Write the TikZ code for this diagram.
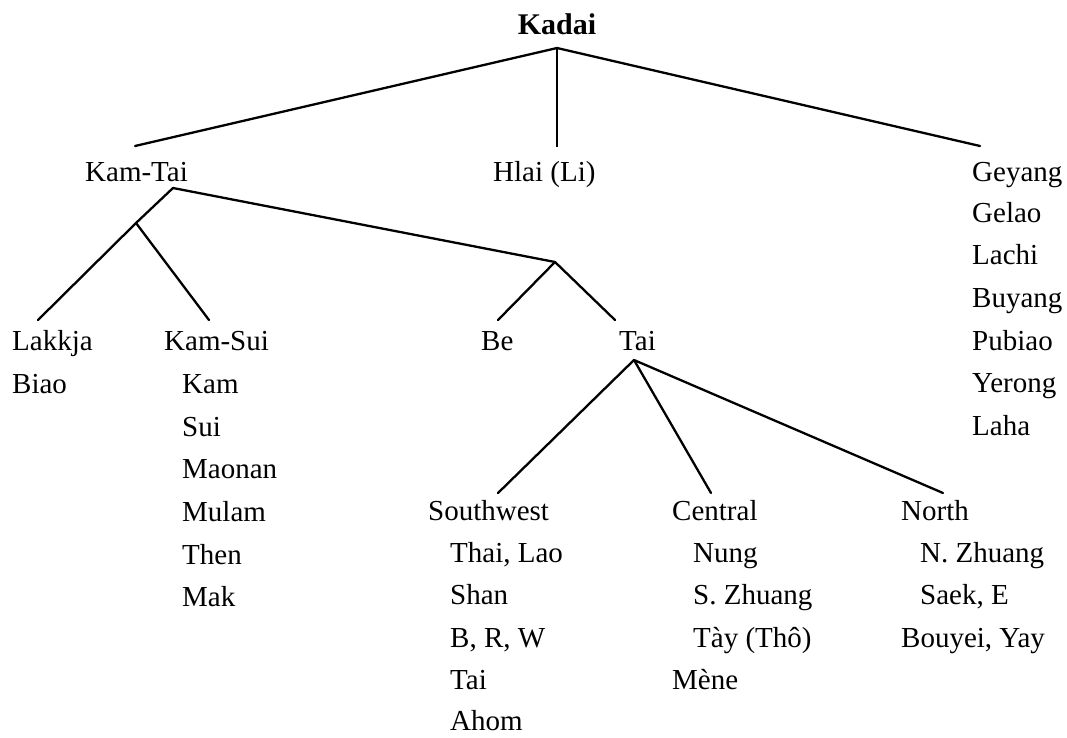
\documentclass[tikz,border=0pt]{standalone}
\usepackage{fontspec}
\setmainfont{Liberation Serif}
\begin{document}
\begin{tikzpicture}[x=1pt,y=-1pt,
  lbl/.style={anchor=base west, inner sep=0pt, font=\fontsize{29}{31}\selectfont},
  branch/.style={line width=2.3pt, line cap=round},
  thinbranch/.style={line width=1.2pt}]
\useasboundingbox[fill=white] (0,0) rectangle (1067,737);

% root
\node[anchor=base, inner sep=0pt, font=\fontsize{30}{32}\selectfont\bfseries] (kadai) at (557,34) {Kadai};

% first level
\node[lbl] (kamtai) at (85,181) {Kam-Tai};
\node[lbl] (hlai) at (493,181) {Hlai (Li)};
\node[lbl] (geyang) at (972,181) {Geyang};
\node[lbl] (gelao) at (972,222) {Gelao};
\node[lbl] (lachi) at (972,264) {Lachi};
\node[lbl] (buyang) at (972,307) {Buyang};
\node[lbl] (pubiao) at (972,350) {Pubiao};
\node[lbl] (yerong) at (972,392) {Yerong};
\node[lbl] (laha) at (972,435) {Laha};

% Kam-Tai children
\node[lbl] (lakkja) at (12,350) {Lakkja};
\node[lbl] (biao) at (12,393) {Biao};
\node[lbl] (kamsui) at (164,350) {Kam-Sui};
\node[lbl] (kam) at (182,393) {Kam};
\node[lbl] (sui) at (182,436) {Sui};
\node[lbl] (maonan) at (182,478) {Maonan};
\node[lbl] (mulam) at (182,521) {Mulam};
\node[lbl] (then) at (182,564) {Then};
\node[lbl] (mak) at (182,606) {Mak};

\node[lbl] (be) at (481,350) {Be};
\node[lbl] (tai) at (619,350) {Tai};

% Tai children
\node[lbl] (sw) at (428,520) {Southwest};
\node[lbl] (thailao) at (450,562) {Thai, Lao};
\node[lbl] (shan) at (450,604) {Shan};
\node[lbl] (brw) at (450,647) {B, R, W};
\node[lbl] (taib) at (450,689) {Tai};
\node[lbl] (ahom) at (450,730) {Ahom};

\node[lbl] (central) at (672,520) {Central};
\node[lbl] (nung) at (693,562) {Nung};
\node[lbl] (szhuang) at (693,604) {S. Zhuang};
\node[lbl] (tay) at (693,647) {Tày (Thô)};
\node[lbl] (mene) at (672,689) {Mène};

\node[lbl] (north) at (901,520) {North};
\node[lbl] (nzhuang) at (920,562) {N. Zhuang};
\node[lbl] (saek) at (920,604) {Saek, E};
\node[lbl] (bouyei) at (901,647) {Bouyei, Yay};

% branch points and line ends
\coordinate (root) at (557,48);
\coordinate (ktend) at (135,146);
\coordinate (hlend) at (557,147);
\coordinate (geend) at (980,146);
\coordinate (ktapex) at (173,188);
\coordinate (ksjunc) at (136,223);
\coordinate (lkend) at (38,320);
\coordinate (ksend) at (209,320);
\coordinate (btjunc) at (555,262);
\coordinate (beend) at (498,320);
\coordinate (taiend) at (615,320);
\coordinate (taiapex) at (634,360);
\coordinate (swend) at (498,493);
\coordinate (ceend) at (711,493);
\coordinate (noend) at (943,493);

\draw[branch] (root) -- (ktend);
\draw[thinbranch] (root) -- (hlend);
\draw[branch] (root) -- (geend);
\draw[branch] (ktapex) -- (btjunc);
\draw[branch] (ktapex) -- (ksjunc) -- (lkend);
\draw[branch] (ksjunc) -- (ksend);
\draw[branch] (btjunc) -- (beend);
\draw[branch] (btjunc) -- (taiend);
\draw[branch] (taiapex) -- (swend);
\draw[branch] (taiapex) -- (ceend);
\draw[branch] (taiapex) -- (noend);
\end{tikzpicture}
\end{document}
